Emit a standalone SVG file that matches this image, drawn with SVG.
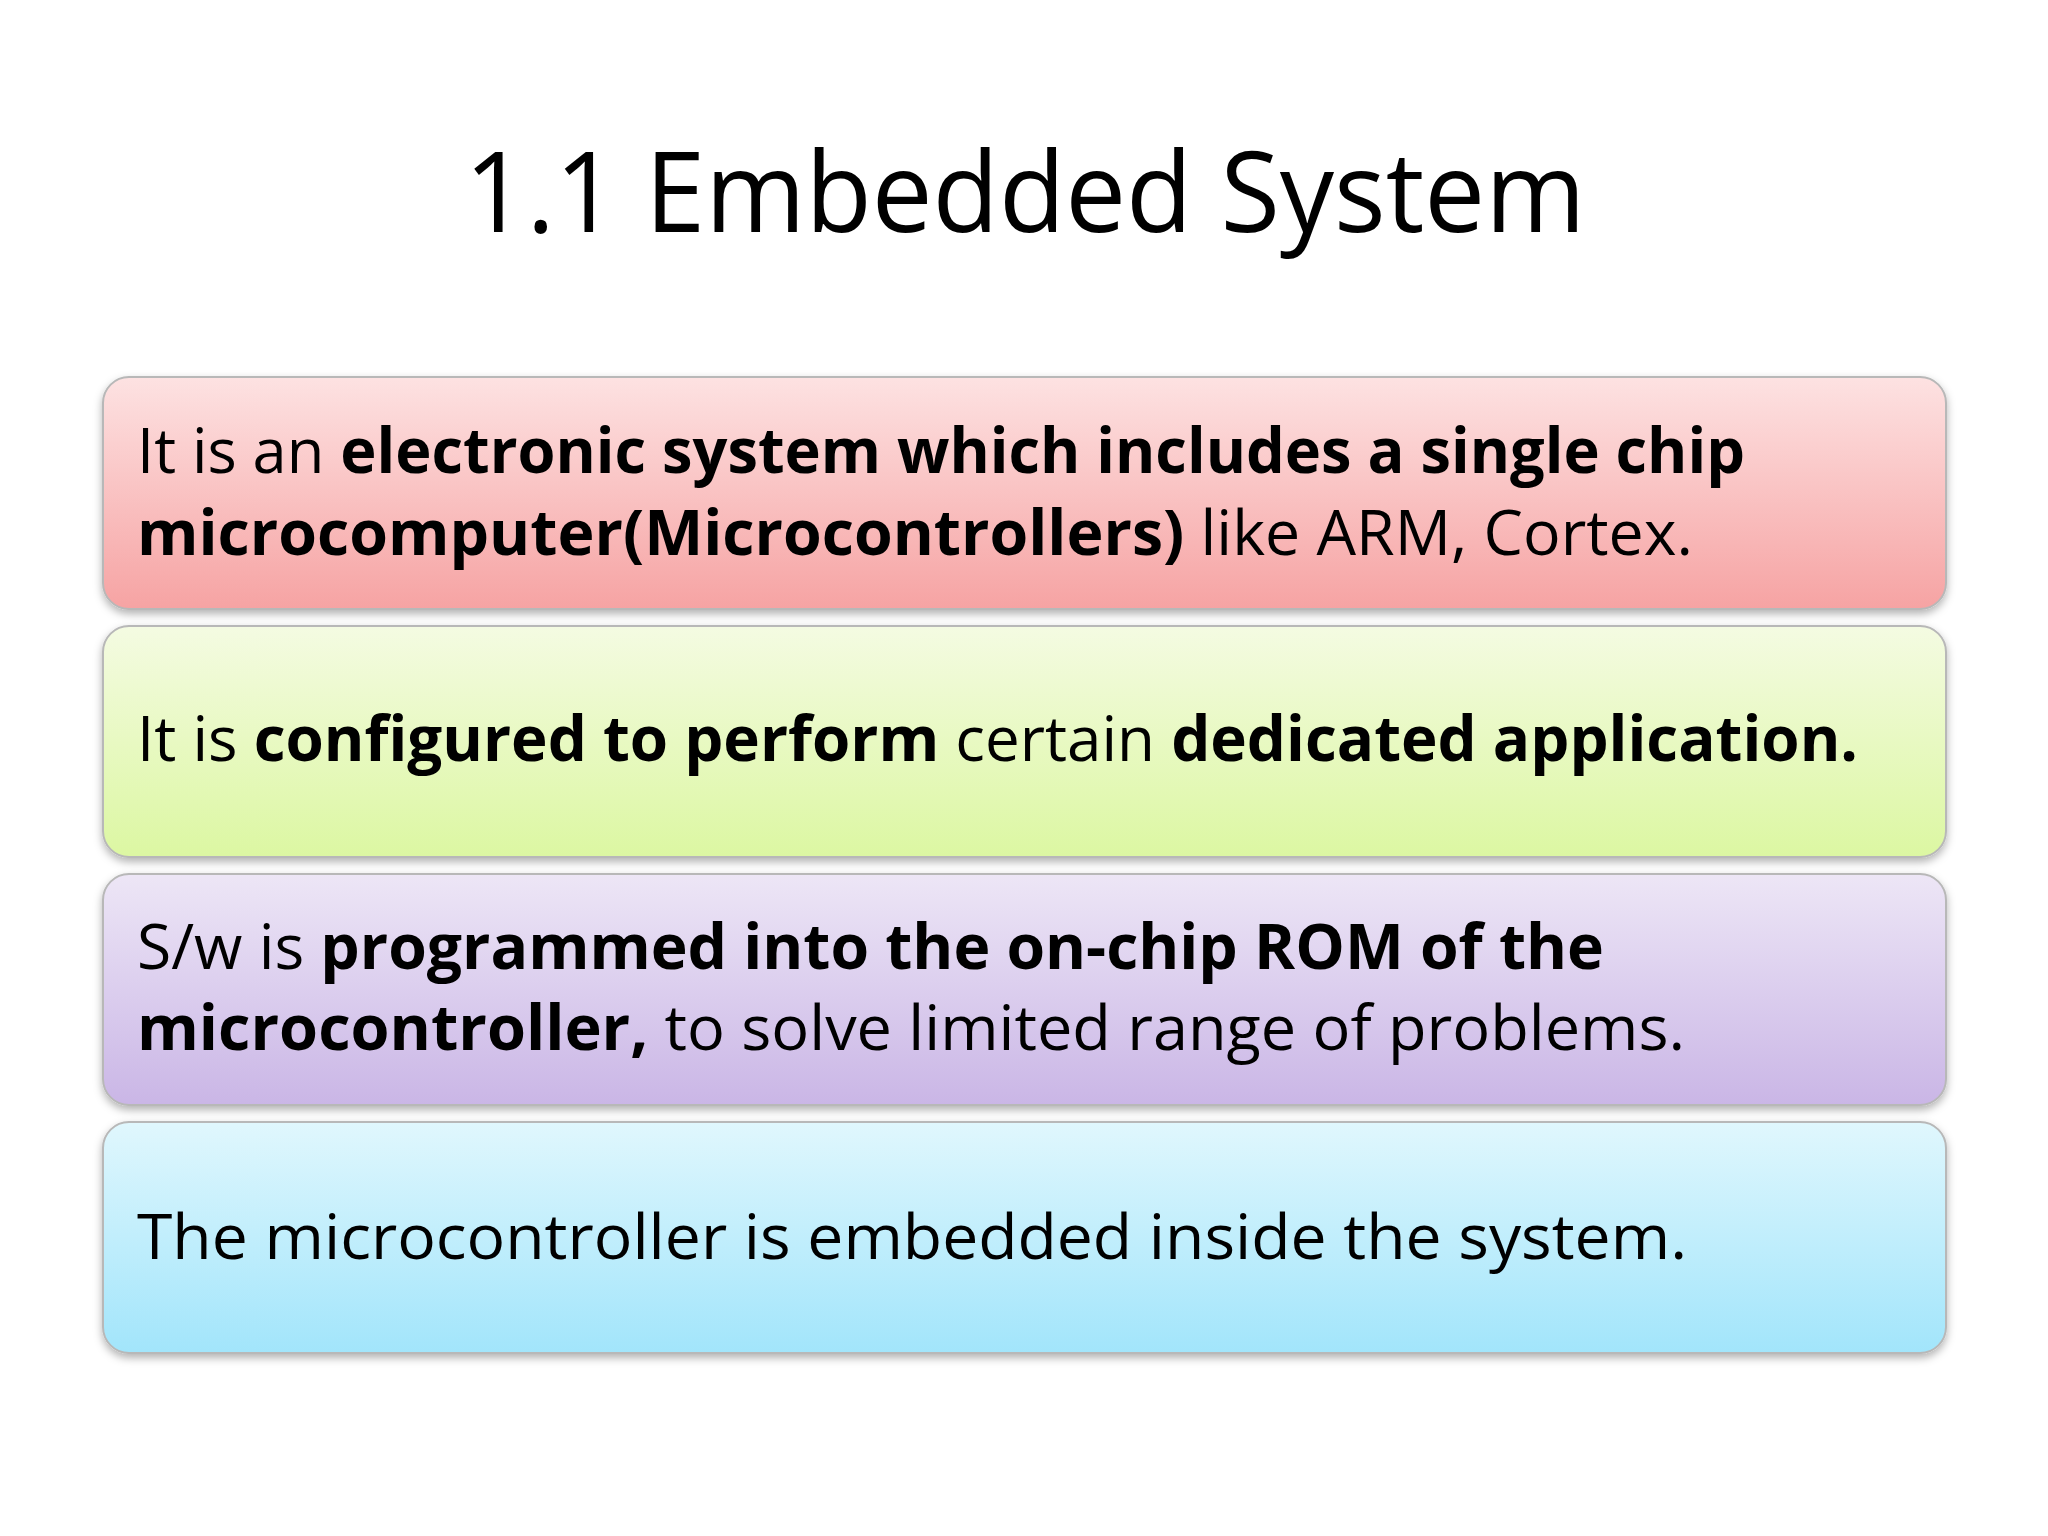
<svg xmlns="http://www.w3.org/2000/svg" width="2048" height="1536" viewBox="0 0 2048 1536">
<style>
.t{font-family:"Open Sans","Noto Sans","Liberation Sans",sans-serif;font-size:62px;fill:#000}
.b{font-weight:bold}
.box{stroke:#b8b8b8;stroke-width:2}
</style>
<defs>
<linearGradient id="g1" x1="0" y1="0" x2="0" y2="1"><stop offset="0" stop-color="#fde2e2"/><stop offset="1" stop-color="#f6a3a3"/></linearGradient>
<linearGradient id="g2" x1="0" y1="0" x2="0" y2="1"><stop offset="0" stop-color="#f4fbe2"/><stop offset="1" stop-color="#dcf7a2"/></linearGradient>
<linearGradient id="g3" x1="0" y1="0" x2="0" y2="1"><stop offset="0" stop-color="#ede6f6"/><stop offset="1" stop-color="#cab6e6"/></linearGradient>
<linearGradient id="g4" x1="0" y1="0" x2="0" y2="1"><stop offset="0" stop-color="#e0f7fd"/><stop offset="1" stop-color="#a2e5fb"/></linearGradient>
<filter id="sh" x="-5%" y="-10%" width="110%" height="130%"><feDropShadow dx="0" dy="4" stdDeviation="4" flood-color="#000" flood-opacity="0.3"/></filter>
</defs>
<rect width="2048" height="1536" fill="#fff"/>
<text x="1025" y="232" text-anchor="middle" font-family="Open Sans,Noto Sans,Liberation Sans,sans-serif" font-size="112" textLength="1121" lengthAdjust="spacingAndGlyphs">1.1 Embedded System</text>
<g id="n1"><rect class="box" x="103" y="377" width="1843" height="232" rx="26" fill="url(#g1)" filter="url(#sh)"/>
<text class="t" x="137" y="473" textLength="1608" lengthAdjust="spacingAndGlyphs">It is an <tspan class="b">electronic system which includes a single chip</tspan></text>
<text class="t" x="137" y="555" textLength="1556" lengthAdjust="spacingAndGlyphs"><tspan class="b">microcomputer(Microcontrollers)</tspan> like ARM, Cortex.</text></g>
<g id="n2"><rect class="box" x="103" y="626" width="1843" height="231" rx="26" fill="url(#g2)" filter="url(#sh)"/>
<text class="t" x="137" y="761" textLength="1721" lengthAdjust="spacingAndGlyphs">It is <tspan class="b">configured to perform</tspan> certain <tspan class="b">dedicated application.</tspan></text></g>
<g id="n3"><rect class="box" x="103" y="874" width="1843" height="231" rx="26" fill="url(#g3)" filter="url(#sh)"/>
<text class="t" x="137" y="969" textLength="1467" lengthAdjust="spacingAndGlyphs">S/w is <tspan class="b">programmed into the on-chip ROM of the</tspan></text>
<text class="t" x="137" y="1050" textLength="1548" lengthAdjust="spacingAndGlyphs"><tspan class="b">microcontroller,</tspan> to solve limited range of problems.</text></g>
<g id="n4"><rect class="box" x="103" y="1122" width="1843" height="231" rx="26" fill="url(#g4)" filter="url(#sh)"/>
<text class="t" x="137" y="1259" textLength="1550" lengthAdjust="spacingAndGlyphs">The microcontroller is embedded inside the system.</text></g>
<g id="connectors"/>
</svg>
